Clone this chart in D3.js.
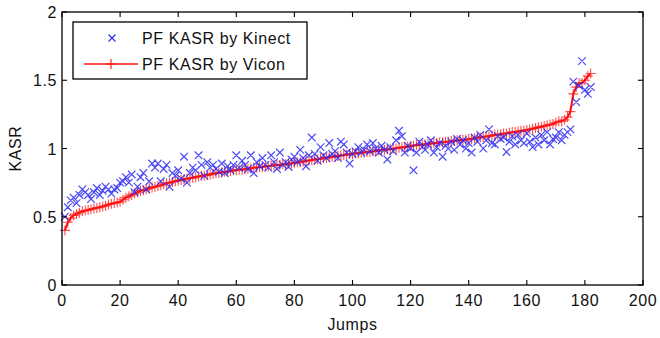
<!DOCTYPE html>
<html>
<head>
<meta charset="utf-8">
<script src="https://cdn.jsdelivr.net/npm/d3@7"></script>
<style>
  html, body { margin: 0; padding: 0; background: #fff; }
  svg { display: block; font-family: "Liberation Sans", Arial, sans-serif; }
</style>
</head>
<body>
<div id="chart"></div>
<script>
// PF KASR by Kinect (blue x), jumps 1..182
const kinect = [
  0.50, 0.57, 0.62, 0.64, 0.60, 0.66, 0.70, 0.68, 0.66, 0.63,
  0.68, 0.71, 0.66, 0.69, 0.72, 0.70, 0.67, 0.70, 0.71, 0.75,
  0.76, 0.79, 0.75, 0.81, 0.68, 0.72, 0.79, 0.82, 0.70, 0.76,
  0.89, 0.86, 0.89, 0.76, 0.85, 0.88, 0.72, 0.82, 0.80, 0.84,
  0.78, 0.94, 0.75, 0.82, 0.86, 0.84, 0.95, 0.88, 0.80, 0.90,
  0.86, 0.88, 0.85, 0.83, 0.89, 0.82, 0.87, 0.84, 0.88, 0.95,
  0.86, 0.91, 0.88, 0.85, 0.95, 0.82, 0.90, 0.87, 0.93, 0.88,
  0.86, 0.95, 0.90, 0.85, 0.97, 0.88, 0.90, 0.865, 0.92, 0.94,
  0.90, 0.99, 0.93, 0.87, 0.95, 1.08, 0.96, 0.91, 1.01, 0.95,
  0.93, 1.04, 0.96, 0.98, 0.93, 1.05, 1.03, 0.97, 0.89, 0.96,
  0.98, 1.01, 0.97, 0.99, 1.03, 0.98, 1.04, 1.00, 0.97, 1.02,
  0.99, 0.92, 1.01, 0.98, 1.06, 1.13, 1.09, 0.97, 1.02, 1.00,
  0.84, 0.97, 1.05, 1.01, 0.99, 1.03, 1.06, 0.97, 1.01, 1.04,
  0.94, 1.02, 1.00, 1.05, 0.99, 1.07, 1.03, 1.06, 1.00, 1.04,
  0.97, 1.08, 1.05, 1.10, 1.00, 1.06, 1.14, 1.04, 1.03, 1.09,
  1.07, 1.08, 0.975, 1.05, 1.09, 1.03, 1.10, 1.06, 1.04, 1.11,
  1.05, 1.01, 1.08, 1.03, 1.10, 1.06, 1.12, 1.03, 1.07, 1.08,
  1.12, 1.06, 1.10, 1.12, 1.14, 1.49, 1.34, 1.46, 1.64, 1.43,
  1.40, 1.45
];

// PF KASR by Vicon (red line with +), sorted ascending
const vicon = [
  0.40, 0.46, 0.49, 0.51, 0.52, 0.53, 0.54, 0.545, 0.55, 0.555,
  0.56, 0.565, 0.57, 0.575, 0.58, 0.59, 0.595, 0.60, 0.605, 0.61,
  0.625, 0.64, 0.65, 0.66, 0.67, 0.68, 0.69, 0.695, 0.70, 0.71,
  0.715, 0.72, 0.725, 0.73, 0.74, 0.745, 0.75, 0.755, 0.76, 0.765,
  0.77, 0.775, 0.78, 0.78, 0.785, 0.79, 0.795, 0.80, 0.80, 0.805,
  0.81, 0.815, 0.82, 0.82, 0.825, 0.83, 0.83, 0.835, 0.84, 0.84,
  0.845, 0.845, 0.85, 0.85, 0.855, 0.86, 0.86, 0.865, 0.865, 0.87,
  0.87, 0.875, 0.875, 0.88, 0.88, 0.885, 0.885, 0.89, 0.89, 0.895,
  0.90, 0.90, 0.905, 0.91, 0.91, 0.915, 0.92, 0.92, 0.925, 0.93,
  0.93, 0.935, 0.94, 0.94, 0.945, 0.95, 0.95, 0.955, 0.96, 0.96,
  0.965, 0.965, 0.97, 0.97, 0.975, 0.975, 0.98, 0.98, 0.985, 0.99,
  0.99, 0.995, 0.995, 1.00, 1.00, 1.005, 1.01, 1.01, 1.015, 1.02,
  1.02, 1.025, 1.025, 1.03, 1.03, 1.035, 1.035, 1.04, 1.04, 1.045,
  1.045, 1.05, 1.05, 1.055, 1.055, 1.06, 1.06, 1.065, 1.065, 1.07,
  1.07, 1.075, 1.08, 1.08, 1.085, 1.09, 1.09, 1.095, 1.10, 1.10,
  1.105, 1.11, 1.11, 1.115, 1.12, 1.12, 1.125, 1.13, 1.13, 1.135,
  1.14, 1.145, 1.15, 1.155, 1.16, 1.165, 1.17, 1.175, 1.18, 1.19,
  1.20, 1.20, 1.21, 1.23, 1.27, 1.40, 1.45, 1.48, 1.48, 1.50,
  1.53, 1.55
];

const xTicks = [0, 20, 40, 60, 80, 100, 120, 140, 160, 180, 200];
const yTicks = [0, 0.5, 1, 1.5, 2];
const yTickLabels = ['0', '0.5', '1', '1.5', '2'];
const seriesNames = ['PF KASR by Kinect', 'PF KASR by Vicon'];

const width = 660, height = 338;
const margin = { top: 12, right: 17, bottom: 53, left: 62 };

const svg = d3.select('#chart').append('svg')
    .attr('width', width)
    .attr('height', height);

const x = d3.scaleLinear().domain([0, 200]).range([margin.left, width - margin.right]);
const y = d3.scaleLinear().domain([0, 2]).range([height - margin.bottom, margin.top]);

const blue = '#2a2af2';
const red = '#ff1010';
const fontSize = 16;

// 红线 + 标记
const line = d3.line().x((d, i) => x(i + 1)).y(d => y(d));
svg.append('path')
    .attr('d', line(vicon))
    .attr('fill', 'none')
    .attr('stroke', red)
    .attr('stroke-width', 2);

const plus = (cx, cy, r) => `M${cx - r},${cy}H${cx + r}M${cx},${cy - r}V${cy + r}`;
const cross = (cx, cy, r) => `M${cx - r},${cy - r}L${cx + r},${cy + r}M${cx - r},${cy + r}L${cx + r},${cy - r}`;

svg.append('path')
    .attr('d', vicon.map((v, i) => plus(x(i + 1), y(v), 5)).join(''))
    .attr('fill', 'none')
    .attr('stroke', red)
    .attr('stroke-width', 1.1)
    .attr('stroke-opacity', 0.75);

// 蓝色 x 标记
svg.append('path')
    .attr('d', kinect.map((v, i) => cross(x(i + 1), y(v), 3.8)).join(''))
    .attr('fill', 'none')
    .attr('stroke', blue)
    .attr('stroke-width', 1.2)
    .attr('stroke-opacity', 0.85);

// 坐标框
const x0 = x(0), x1 = x(200), y0 = y(0), y1 = y(2);
svg.append('rect')
    .attr('x', x0).attr('y', y1)
    .attr('width', x1 - x0).attr('height', y0 - y1)
    .attr('fill', 'none')
    .attr('stroke', '#000')
    .attr('stroke-width', 1.3);

const tickLen = 5;
const tg = svg.append('g').attr('stroke', '#000').attr('stroke-width', 1.1);
xTicks.forEach(t => {
    tg.append('line').attr('x1', x(t)).attr('x2', x(t)).attr('y1', y0).attr('y2', y0 - tickLen);
    tg.append('line').attr('x1', x(t)).attr('x2', x(t)).attr('y1', y1).attr('y2', y1 + tickLen);
});
yTicks.forEach(t => {
    tg.append('line').attr('x1', x0).attr('x2', x0 + tickLen).attr('y1', y(t)).attr('y2', y(t));
    tg.append('line').attr('x1', x1).attr('x2', x1 - tickLen).attr('y1', y(t)).attr('y2', y(t));
});

// 刻度标签
svg.append('g').selectAll('text')
    .data(xTicks)
    .join('text')
    .attr('x', d => x(d))
    .attr('y', y0 + 21)
    .attr('text-anchor', 'middle')
    .style('font-size', fontSize + 'px')
    .style('letter-spacing', '0.6px')
    .attr('fill', '#111')
    .text(d => d);

svg.append('g').selectAll('text')
    .data(yTicks)
    .join('text')
    .attr('x', x0 - 5)
    .attr('y', d => y(d) + 6)
    .attr('text-anchor', 'end')
    .style('font-size', fontSize + 'px')
    .style('letter-spacing', '0.6px')
    .attr('fill', '#111')
    .text((d, i) => yTickLabels[i]);

// 轴标题
svg.append('text')
    .attr('transform', `translate(21,${(y0 + y1) / 2}) rotate(-90)`)
    .attr('text-anchor', 'middle')
    .style('font-size', fontSize + 'px')
    .style('letter-spacing', '0.6px')
    .attr('fill', '#111')
    .text('KASR');

svg.append('text')
    .attr('x', (x0 + x1) / 2)
    .attr('y', y0 + 45)
    .attr('text-anchor', 'middle')
    .style('font-size', fontSize + 'px')
    .style('letter-spacing', '0.6px')
    .attr('fill', '#111')
    .text('Jumps');

// 图例
const legend = svg.append('g');
legend.append('rect')
    .attr('x', 73).attr('y', 22)
    .attr('width', 234).attr('height', 57)
    .attr('fill', '#fff')
    .attr('stroke', '#000')
    .attr('stroke-width', 1.3);

legend.append('path')
    .attr('d', cross(112, 38, 3.5))
    .attr('stroke', blue).attr('stroke-width', 1.1).attr('fill', 'none');
legend.append('line')
    .attr('x1', 84).attr('x2', 138).attr('y1', 64).attr('y2', 64)
    .attr('stroke', red).attr('stroke-width', 1.6);
legend.append('path')
    .attr('d', plus(111, 64, 5))
    .attr('stroke', red).attr('stroke-width', 1.1).attr('fill', 'none');

legend.selectAll('text.lg')
    .data(seriesNames)
    .join('text')
    .attr('class', 'lg')
    .attr('x', 142)
    .attr('y', (d, i) => 44 + i * 26)
    .style('font-size', fontSize + 'px')
    .style('letter-spacing', '0.6px')
    .attr('fill', '#111')
    .text(d => d);
</script>
</body>
</html>
